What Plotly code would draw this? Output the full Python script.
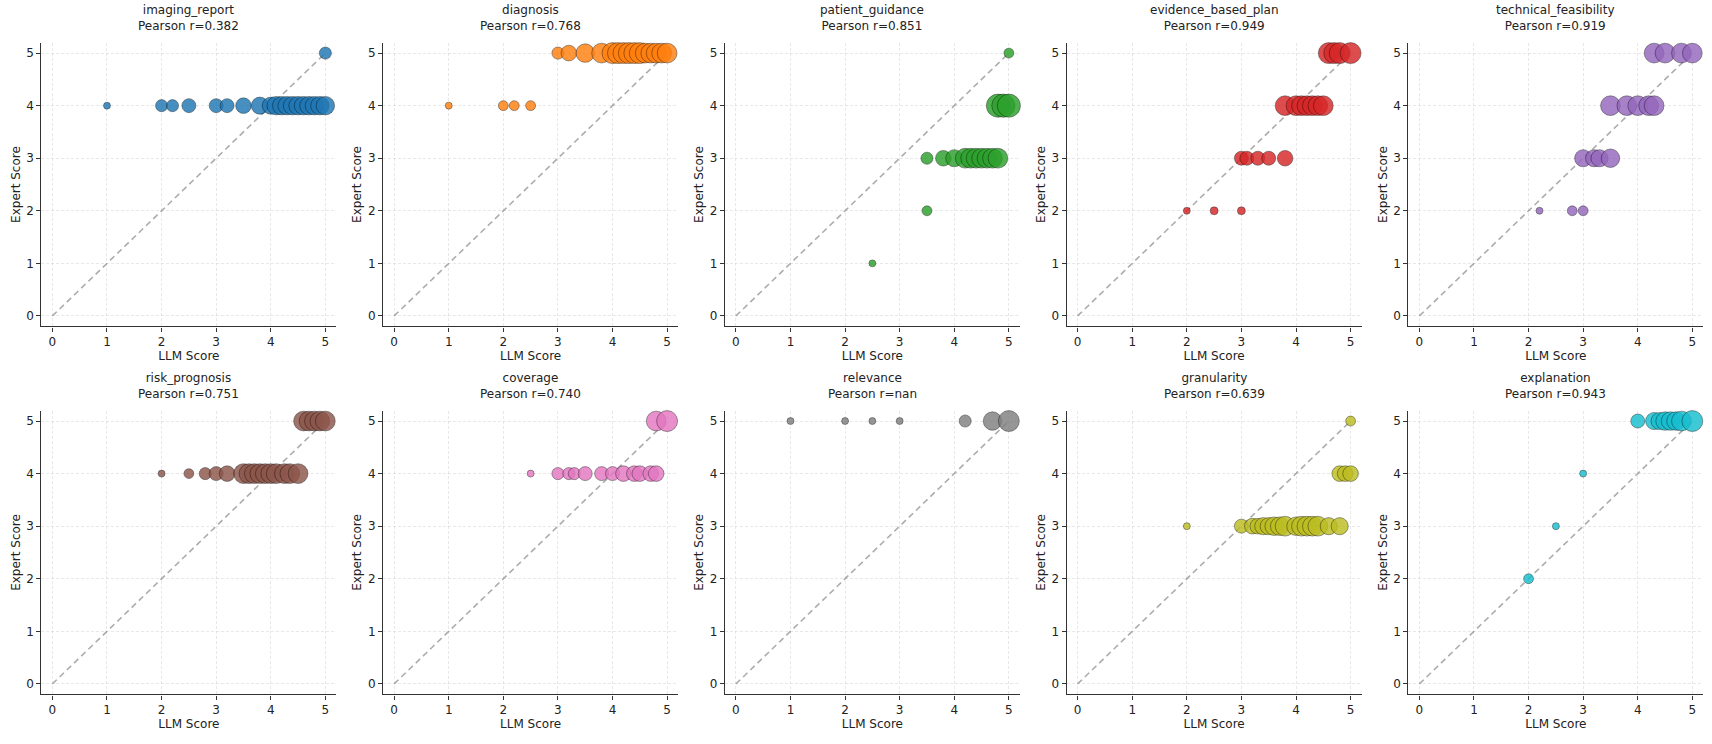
import numpy as np
import plotly.graph_objects as go

# one panel per metric: LLM score (x), expert score (y), n = samples at that point
metrics = ["imaging_report", "diagnosis", "patient_guidance", "evidence_based_plan",
           "technical_feasibility", "risk_prognosis", "coverage", "relevance",
           "granularity", "explanation"]
pearson = ["0.382", "0.768", "0.851", "0.949", "0.919", "0.751", "0.740", "nan", "0.639", "0.943"]
colors = ["#1f77b4", "#ff7f0e", "#2ca02c", "#d62728", "#9467bd",
          "#8c564b", "#e377c2", "#7f7f7f", "#bcbd22", "#17becf"]

imaging_x = [1.0, 2.0, 2.2, 2.5, 3.0, 3.2, 3.5, 3.8, 4.0, 4.1, 4.2, 4.3, 4.4, 4.5, 4.6, 4.7, 4.8, 4.9, 5.0, 5.0]
imaging_y = [4, 4, 4, 4, 4, 4, 4, 4, 4, 4, 4, 4, 4, 4, 4, 4, 4, 4, 4, 5]
imaging_n = [1, 3, 3, 4, 4, 4, 5, 6, 6, 7, 7, 7, 7, 7, 7, 7, 7, 7, 7, 3]

diagnosis_x = [1.0, 2.0, 2.2, 2.5, 3.0, 3.2, 3.5, 3.8, 4.0, 4.1, 4.2, 4.3, 4.4, 4.5, 4.6, 4.7, 4.8, 4.9, 5.0]
diagnosis_y = [4, 4, 4, 4, 5, 5, 5, 5, 5, 5, 5, 5, 5, 5, 5, 5, 5, 5, 5]
diagnosis_n = [1, 2, 2, 2, 3, 5, 7, 8, 9, 9, 9, 9, 9, 9, 8, 8, 8, 8, 8]

guidance_x = [2.5, 3.5, 3.5, 3.8, 4.0, 4.2, 4.3, 4.4, 4.5, 4.6, 4.7, 4.8, 4.8, 4.9, 5.0, 5.0]
guidance_y = [1, 2, 3, 3, 3, 3, 3, 3, 3, 3, 3, 3, 4, 4, 4, 5]
guidance_n = [1, 2, 3, 5, 6, 8, 8, 8, 8, 8, 8, 8, 11, 11, 11, 2]

evidence_x = [2.0, 2.5, 3.0, 3.0, 3.1, 3.3, 3.5, 3.8, 3.8, 4.0, 4.1, 4.2, 4.3, 4.4, 4.5, 4.6, 4.7, 4.8, 5.0]
evidence_y = [2, 2, 2, 3, 3, 3, 3, 3, 4, 4, 4, 4, 4, 4, 4, 5, 5, 5, 5]
evidence_n = [1, 1.3, 1.3, 4, 4, 4, 4, 5, 8, 8, 8, 8, 8, 8, 8, 9, 9, 9, 9]

technical_x = [2.2, 2.8, 3.0, 3.0, 3.2, 3.3, 3.5, 3.5, 3.8, 4.0, 4.2, 4.3, 4.3, 4.5, 4.8, 5.0]
technical_y = [2, 2, 2, 3, 3, 3, 3, 4, 4, 4, 4, 4, 5, 5, 5, 5]
technical_n = [1, 2, 2, 6, 6, 6, 7, 8, 8, 8, 8, 8, 8, 8, 8, 8]

risk_x = [2.0, 2.5, 2.8, 3.0, 3.2, 3.5, 3.6, 3.7, 3.8, 3.9, 4.0, 4.1, 4.25, 4.35, 4.5, 4.6, 4.7, 4.8, 4.9, 5.0]
risk_y = [4, 4, 4, 4, 4, 4, 4, 4, 4, 4, 4, 4, 4, 4, 4, 5, 5, 5, 5, 5]
risk_n = [1, 2, 3, 4, 5, 8, 8, 8, 8, 8, 8, 8, 8, 8, 8, 8, 8, 8, 8, 8]

coverage_x = [2.5, 3.0, 3.2, 3.3, 3.5, 3.8, 4.0, 4.2, 4.4, 4.5, 4.7, 4.8, 4.8, 5.0]
coverage_y = [4, 4, 4, 4, 4, 4, 4, 4, 4, 4, 4, 4, 5, 5]
coverage_n = [1, 3, 3, 3, 4, 4, 4, 5, 5, 5, 5, 5, 8, 9]

relevance_x = [1.0, 2.0, 2.5, 3.0, 4.2, 4.7, 5.0]
relevance_y = [5, 5, 5, 5, 5, 5, 5]
relevance_n = [1, 1, 1, 1, 3, 7, 9]

granularity_x = [2.0, 3.0, 3.2, 3.3, 3.4, 3.5, 3.6, 3.7, 3.8, 4.0, 4.1, 4.2, 4.3, 4.4, 4.6, 4.8, 4.8, 4.9, 5.0, 5.0]
granularity_y = [3, 3, 3, 3, 3, 3, 3, 3, 3, 3, 3, 3, 3, 3, 3, 3, 4, 4, 4, 5]
granularity_n = [1, 4, 5, 5, 6, 6, 7, 7, 8, 7, 8, 8, 8, 8, 6, 6, 5, 5, 5, 2]

explanation_x = [2.0, 2.5, 3.0, 4.0, 4.3, 4.4, 4.5, 4.6, 4.7, 4.8, 5.0]
explanation_y = [2, 3, 4, 5, 5, 5, 5, 5, 5, 5, 5]
explanation_n = [2, 1, 1, 4, 6, 6, 7, 7, 7, 8, 9]

panel_x = [imaging_x, diagnosis_x, guidance_x, evidence_x, technical_x,
           risk_x, coverage_x, relevance_x, granularity_x, explanation_x]
panel_y = [imaging_y, diagnosis_y, guidance_y, evidence_y, technical_y,
           risk_y, coverage_y, relevance_y, granularity_y, explanation_y]
panel_n = [imaging_n, diagnosis_n, guidance_n, evidence_n, technical_n,
           risk_n, coverage_n, relevance_n, granularity_n, explanation_n]

ticks = [0, 1, 2, 3, 4, 5]

W, H = 1712, 744
S = W / 1568  # positions below were measured on a 1568 px wide view
col_left = [38, 351, 664, 977, 1290]
panel_w = 270
row_top = [39, 376]
panel_h = 260

font = "DejaVu Sans"
fs = round(11 * S)
fig = go.Figure()
layout = {}

for i, name in enumerate(metrics):
    r, c = divmod(i, 5)
    ax = "" if i == 0 else str(i + 1)
    x0 = col_left[c] * S / W
    x1 = (col_left[c] + panel_w) * S / W
    y1 = 1 - row_top[r] * S / H
    y0 = 1 - (row_top[r] + panel_h) * S / H

    # y = x reference line
    fig.add_trace(go.Scatter(x=[ticks[0], ticks[-1]], y=[ticks[0], ticks[-1]], mode="lines",
                             line=dict(color="rgba(128,128,128,0.65)", width=1.6, dash="6px,4px"),
                             xaxis="x" + ax, yaxis="y" + ax, showlegend=False, hoverinfo="skip"))
    n = np.array(panel_n[i], dtype=float)
    fig.add_trace(go.Scatter(x=panel_x[i], y=panel_y[i], mode="markers", cliponaxis=False,
                             marker=dict(color=colors[i], size=6.4 * S * np.sqrt(n), opacity=0.82,
                                         line=dict(color="rgba(0,0,0,0.75)", width=0.6)),
                             xaxis="x" + ax, yaxis="y" + ax, showlegend=False))

    common = dict(range=[-0.2, 5.2], tickvals=ticks, ticks="outside", ticklen=4, tickcolor="#333",
                  showline=True, linecolor="#333", linewidth=1.2, mirror=False, zeroline=False,
                  showgrid=True, gridcolor="rgba(190,190,190,0.35)", griddash="3px,2px", gridwidth=0.8,
                  tickfont=dict(family=font, size=fs, color="#222"))
    layout["xaxis" + ax] = dict(domain=[x0, x1], anchor="y" + ax,
                                title=dict(text="LLM Score", font=dict(family=font, size=fs, color="#222"),
                                           standoff=3), **common)
    layout["yaxis" + ax] = dict(domain=[y0, y1], anchor="x" + ax,
                                title=dict(text="Expert Score", font=dict(family=font, size=fs, color="#222"),
                                           standoff=3), **common)
    fig.add_annotation(text=f"{name}<br>Pearson r={pearson[i]}", xref="paper", yref="paper",
                       x=(x0 + x1) / 2, y=y1 + 8 / H, xanchor="center", yanchor="bottom",
                       showarrow=False, font=dict(family=font, size=fs, color="#222"))

fig.update_layout(width=W, height=H, margin=dict(l=0, r=0, t=0, b=0),
                  plot_bgcolor="white", paper_bgcolor="white", **layout)

# drop the browser's default page margin so the figure sits at the window corner
fig.write_html("out.html", config={"displayModeBar": False},
               post_script="document.body.style.margin = '0';")
